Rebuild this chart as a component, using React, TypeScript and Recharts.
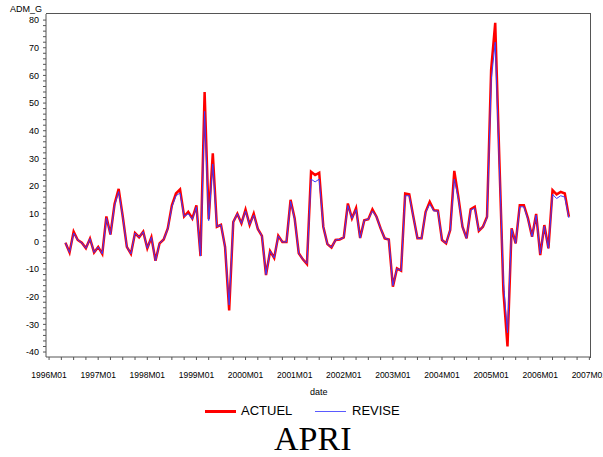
import { LineChart, Line, XAxis, YAxis } from "recharts";

// months are counted from 1996M01 (= 0); first observation is 1996M05
const firstMonth = 4;

const yearLabels = [
  "1996M01", "1997M01", "1998M01", "1999M01", "2000M01", "2001M01",
  "2002M01", "2003M01", "2004M01", "2005M01", "2006M01", "2007M01",
];

const actuel = [
  -0.5, -4, 3.5, 0.5, -0.5, -2.5, 1, -4, -2, -4.5,
  9, 2.5, 13.5, 19, 9, -2, -4.5, 3, 1.5, 3.5,
  -2.5, 1.5, -7, -0.7, 0.7, 4.7, 13, 17.3, 18.8, 9,
  10.7, 8.3, 13, -5.3, 54, 8, 31.8, 5.3, 6, -2,
  -25, 7, 10, 6.5, 11.5, 6, 10, 4.5, 2, -12.2,
  -3.5, -6, 2, -0.2, -0.2, 15, 8.3, -4.3, -6.5, -8.2,
  25.2, 24, 24.8, 5.3, -1, -2.2, 0.5, 0.7, 1.4, 13.7,
  8.3, 12, 1.2, 7.6, 8, 11.6, 8.9, 4.7, 1.1, 0.7,
  -16.4, -9.8, -10.6, 17.3, 17, 8.9, 1.1, 1.1, 10.7, 14.3,
  11.3, 11.1, 0.5, -0.7, 4.1, 25.5, 16, 5.3, 1.1, 11.6,
  12.5, 3.8, 5.3, 8.9, 62, 79, 30, -18, -38, 4.7,
  -0.7, 13.1, 13.1, 8.3, 1.7, 9.9, -5, 5.9, -2.5, 18.5,
  17, 17.9, 17.3, 8.9,
];

const revise = [
  -0.5, -4, 3, 0.5, -0.5, -2.5, 1, -4, -2, -4.5,
  8.5, 2.5, 13, 18, 9, -2, -4.5, 3, 1.5, 3.5,
  -2.5, 1.5, -7, -0.7, 0.7, 4.5, 12.5, 16.5, 17.5, 9,
  10, 8, 12.5, -5.3, 47, 7.5, 28, 5.3, 6, -2,
  -23, 7, 10, 6.5, 11, 6, 9.5, 4.5, 2, -12,
  -3.5, -6, 2, -0.2, -0.2, 14.5, 8, -4.3, -6.5, -8,
  22.5, 21.5, 22.5, 5.3, -1, -2.2, 0.5, 0.7, 1.4, 13,
  8.3, 11.5, 1.2, 7.6, 8, 11, 8.9, 4.7, 1.1, 0.7,
  -16, -9.8, -10.6, 16.5, 16.5, 8.9, 1.1, 1.1, 10.5, 13.5,
  11, 11, 0.5, -0.7, 4.1, 22.5, 15.5, 5.3, 1.1, 11.3,
  12, 3.8, 5.3, 8.5, 58, 72, 28, -15, -33, 4.5,
  -0.7, 12.5, 12.5, 8, 1.7, 9.5, -4.5, 5.5, -2.5, 17,
  15.5, 16.5, 16, 8.5,
];

const data = actuel.map((v, i) => ({ m: firstMonth + i, actuel: v, revise: revise[i] }));

const xTicks = Array.from({ length: yearLabels.length * 4 - 3 }, (_, i) => i * 3);
const yTicks = Array.from({ length: 61 }, (_, i) => -40 + i * 2);

const axisColor = "#555";
const font = "'Liberation Sans', Arial, sans-serif";

export default function App() {
  return (
    <div style={{ position: "absolute", left: 0, top: 0, width: 603, height: 457, background: "#fff", fontFamily: font }}>
      <LineChart width={603} height={457} data={data} margin={{ top: 14, right: 12, left: 0, bottom: 0 }}>
        <XAxis
          dataKey="m"
          type="number"
          domain={[-0.75, 132.4]}
          allowDataOverflow
          ticks={xTicks}
          interval={0}
          height={100}
          tickSize={3}
          tickMargin={12}
          stroke={axisColor}
          tick={{ fontSize: 8.5, fill: "#000", fontFamily: font }}
          tickFormatter={(v: number) => (v % 12 === 0 ? yearLabels[v / 12] : "")}
        />
        <YAxis
          type="number"
          domain={[-41.8, 82.2]}
          allowDataOverflow
          ticks={yTicks}
          interval={0}
          width={46}
          tickSize={3}
          tickMargin={4}
          stroke={axisColor}
          tick={{ fontSize: 9, fill: "#000", fontFamily: font }}
          tickFormatter={(v: number) => (v % 10 === 0 ? String(v) : "")}
        />
        <Line dataKey="actuel" stroke="#ff0000" strokeWidth={2.5} dot={false} isAnimationActive={false} />
        <Line dataKey="revise" stroke="#3a3aff" strokeWidth={1} dot={false} isAnimationActive={false} />
      </LineChart>

      {/* frame top + right */}
      <div style={{ position: "absolute", left: 46, top: 13, width: 544, height: 344, borderTop: `1px solid ${axisColor}`, borderRight: `1px solid ${axisColor}`, pointerEvents: "none" }} />

      <div style={{ position: "absolute", left: 10, top: 4, fontSize: 9 }}>ADM_G</div>
      <div style={{ position: "absolute", left: 310, top: 387, fontSize: 9 }}>date</div>

      {/* legend */}
      <div style={{ position: "absolute", left: 205, top: 410, width: 31, height: 3, background: "#ff0000" }} />
      <div style={{ position: "absolute", left: 241, top: 403, fontSize: 13 }}>ACTUEL</div>
      <div style={{ position: "absolute", left: 315, top: 411, width: 31, height: 1, background: "#5a5aff" }} />
      <div style={{ position: "absolute", left: 352, top: 403, fontSize: 13 }}>REVISE</div>

      <div style={{ position: "absolute", left: 274, top: 419, fontSize: 34, fontFamily: "'Liberation Serif', serif", lineHeight: "40px" }}>APRI</div>
    </div>
  );
}
